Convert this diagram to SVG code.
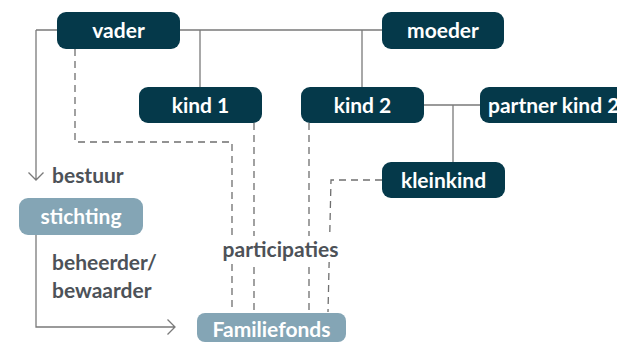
<svg xmlns="http://www.w3.org/2000/svg" width="617" height="343" viewBox="0 0 617 343">
<defs>
<style>
.dk{fill:#05394a}
.lt{fill:#84a5b5}
.nt{font-family:Lato,"Noto Sans",sans-serif;font-weight:bold;font-size:21px;fill:#ffffff;text-anchor:middle}
.lb{font-family:Lato,"Noto Sans",sans-serif;font-weight:bold;font-size:21px;fill:#4d5258}
.s{fill:none;stroke:#7a7a7a;stroke-width:1.3}
.d{fill:none;stroke:#6f6f6f;stroke-width:1.3;stroke-dasharray:7 5}
</style>
</defs>
<rect width="617" height="343" fill="#ffffff"/>
<g id="connectors">
<path class="s" d="M36 30H57M180 30H382M200 30V87M362 30V87M424 105H480M453 105V162"/>
<path class="s" d="M36 30V180M28.5 172.5L36 180L43.5 172.5"/>
<path class="s" d="M36 235V327H175M167.5 319.5L175 327L167.5 334.5"/>
<path class="d" d="M75 49V142H232V312"/>
<path class="d" d="M254 123V312"/>
<path class="d" d="M309 123V312"/>
<path class="d" d="M382 180H331L328 312"/>
<rect x="218" y="236" width="125" height="26" fill="#ffffff"/>
<text class="lb" x="280.5" y="257" text-anchor="middle">participaties</text>
<text class="lb" x="52" y="183">bestuur</text>
<text class="lb" x="52" y="270">beheerder/</text>
<text class="lb" x="52" y="298">bewaarder</text>
</g>
<g id="vader"><rect class="dk" x="57" y="12" width="123" height="37" rx="9"/><text class="nt" x="118.5" y="38">vader</text></g>
<g id="moeder"><rect class="dk" x="382" y="12" width="122" height="37" rx="9"/><text class="nt" x="443" y="38">moeder</text></g>
<g id="kind1"><rect class="dk" x="139" y="87" width="123" height="36" rx="9"/><text class="nt" x="200.5" y="113">kind 1</text></g>
<g id="kind2"><rect class="dk" x="301" y="87" width="123" height="36" rx="9"/><text class="nt" x="362.5" y="113">kind 2</text></g>
<g id="partner"><rect class="dk" x="480" y="87" width="160" height="36" rx="9"/><text class="nt" x="488" y="113" style="text-anchor:start">partner kind 2</text></g>
<g id="kleinkind"><rect class="dk" x="382" y="162" width="123" height="36" rx="9"/><text class="nt" x="443.5" y="188">kleinkind</text></g>
<g id="stichting"><rect class="lt" x="19" y="198" width="124" height="37" rx="9"/><text class="nt" x="81" y="224">stichting</text></g>
<g id="familiefonds"><rect class="lt" x="197" y="313" width="149" height="29" rx="8"/><text class="nt" x="271.5" y="337">Familiefonds</text></g>
</svg>
